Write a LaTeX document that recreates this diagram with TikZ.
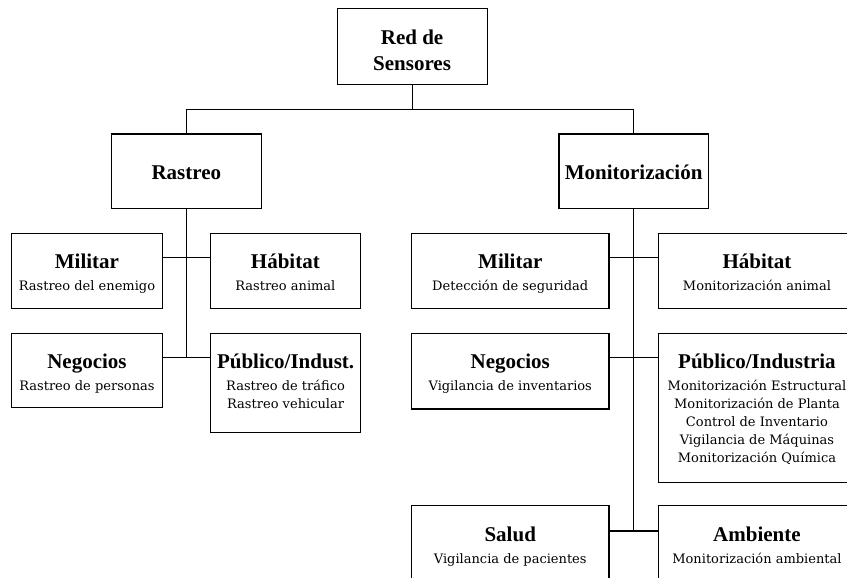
\documentclass[tikz,border=0pt]{standalone}
\usepackage{fontspec}
\setmainfont{Liberation Serif}
\newfontfamily\subfam{DejaVu Serif}
\usetikzlibrary{calc}

% bold heading with a strut that fixes its baseline below the box top
\newcommand\hd[2]{{\fontsize{21}{21}\selectfont\bfseries\rule{0pt}{#1}#2}}
% box content: width, height, heading baseline, heading, description lines
\newcommand\boxtxt[5]{\parbox[c][#2][t]{#1}{\centering\hd{#3}{#4}\par\vspace{4pt}%
  {\subfam\fontsize{13}{18}\selectfont #5\par}}}
\newcommand\toptxt[4]{\parbox[c][#2][t]{#1}{\centering\fontsize{21}{26}\selectfont\bfseries\rule{0pt}{#3}#4\par}}

\begin{document}
\begin{tikzpicture}[x=1pt,y=-1pt,
  box/.style={draw,line width=1.2pt,inner sep=0pt,anchor=north west},
  wire/.style={line width=1.2pt}]
\useasboundingbox (0,0) rectangle (847,578);
\fill[white] (0,0) rectangle (847,578);
\clip (0,0) rectangle (847,578);

% upper levels
\node[box] (root) at (336.5,8.3) {\toptxt{150pt}{76pt}{36pt}{Red de\\Sensores}};
\node[box] (rast) at (110.5,133.3) {\toptxt{150.5pt}{74.4pt}{45.5pt}{Rastreo}};
\node[box] (mon)  at (558.3,133.3) {\toptxt{149.4pt}{74.4pt}{45.5pt}{Monitorización}};

% tracking branch
\node[box] (milL) at (11,232.7)  {\boxtxt{150.7pt}{75pt}{35.5pt}{Militar}{Rastreo del enemigo}};
\node[box] (habL) at (209.5,232.7) {\boxtxt{150.5pt}{75pt}{35.5pt}{Hábitat}{Rastreo animal}};
\node[box] (negL) at (11,332.7)  {\boxtxt{150.7pt}{74pt}{35.5pt}{Negocios}{Rastreo de personas}};
\node[box] (pubL) at (210,332.7) {\boxtxt{150pt}{99pt}{35.5pt}{Público/Indust.}{Rastreo de tráfico\\Rastreo vehicular}};

% monitoring branch
\node[box] (milR) at (411,232.7)   {\boxtxt{197.3pt}{75pt}{35.5pt}{Militar}{Detección de seguridad}};
\node[box] (habR) at (657.7,232.7) {\boxtxt{197.3pt}{75pt}{35.5pt}{Hábitat}{Monitorización animal}};
\node[box] (negR) at (411,332.7)   {\boxtxt{197.3pt}{75.6pt}{35.5pt}{Negocios}{Vigilancia de inventarios}};
\node[box] (pubR) at (657.7,332.7) {\boxtxt{197.3pt}{149pt}{35.5pt}{Público/Industria}{Monitorización Estructural\\Monitorización de Planta\\Control de Inventario\\Vigilancia de Máquinas\\Monitorización Química}};
\node[box] (salR) at (411,505)     {\boxtxt{197.3pt}{80pt}{35.5pt}{Salud}{Vigilancia de pacientes}};
\node[box] (ambR) at (657.7,505)   {\boxtxt{197.3pt}{80pt}{35.5pt}{Ambiente}{Monitorización ambiental}};

% root to the two branches
\draw[wire] (root.south) -- ++(0,24) coordinate (jTop);
\draw[wire] (rast.north) |- (jTop) -| (mon.north);

% tracking trunk and its arms
\coordinate (jL1) at ($(milL.north east)+(0,25)$);
\coordinate (jL2) at ($(negL.north east)+(0,24.5)$);
\draw[wire] (rast.south) -- (rast.south |- jL2);
\draw[wire] (jL1) -- (jL1 -| habL.west);
\draw[wire] (jL2) -- (jL2 -| pubL.west);

% monitoring trunk and its arms
\coordinate (jR1) at ($(milR.north east)+(0,25)$);
\coordinate (jR2) at ($(negR.north east)+(0,24.5)$);
\coordinate (jR3) at ($(salR.north east)+(0,26)$);
\draw[wire] (mon.south) -- (mon.south |- jR3);
\draw[wire] (jR1) -- (jR1 -| habR.west);
\draw[wire] (jR2) -- (jR2 -| pubR.west);
\draw[wire] (jR3) -- (jR3 -| ambR.west);
\end{tikzpicture}
\end{document}
